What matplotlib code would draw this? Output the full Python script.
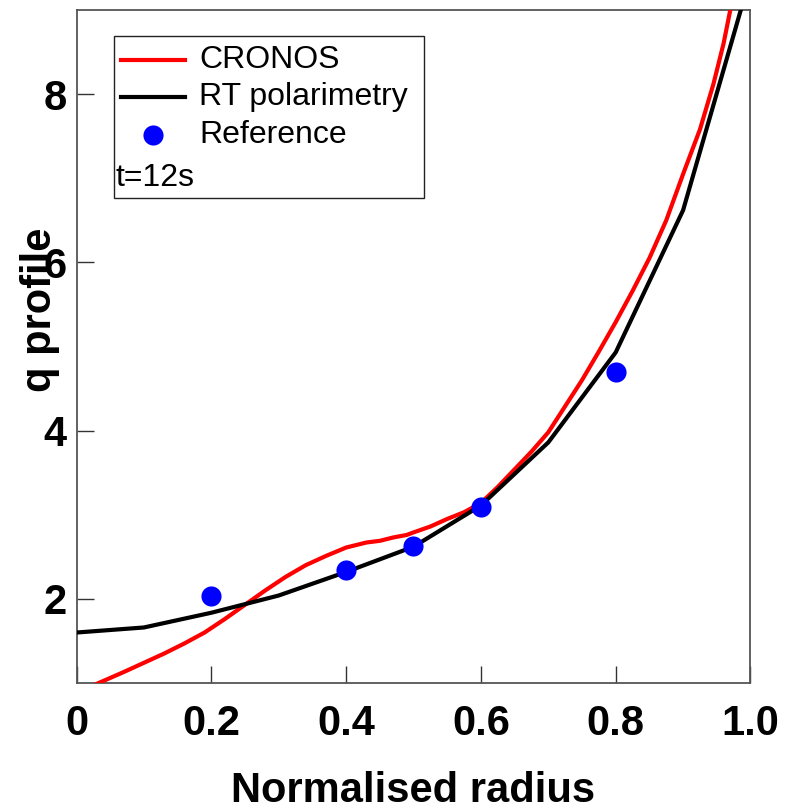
import matplotlib
matplotlib.use("Agg")
import matplotlib.pyplot as plt
from matplotlib.lines import Line2D
from matplotlib.patches import Rectangle

plt.rcParams['font.family'] = ['Liberation Sans', 'DejaVu Sans']

# CRONOS simulated q profile
cronos_r = [0.0, 0.03, 0.05, 0.07, 0.10, 0.13, 0.16, 0.19, 0.22, 0.25, 0.28,
            0.31, 0.34, 0.37, 0.40, 0.43, 0.45, 0.47, 0.49, 0.50, 0.525, 0.55,
            0.575, 0.60, 0.625, 0.65, 0.675, 0.70, 0.725, 0.75, 0.775, 0.80,
            0.825, 0.85, 0.875, 0.90, 0.925, 0.945, 0.96, 0.97, 0.98, 1.00]
cronos_q = [0.88, 0.99, 1.06, 1.13, 1.24, 1.35, 1.47, 1.60, 1.76, 1.93, 2.10,
            2.26, 2.40, 2.51, 2.61, 2.67, 2.69, 2.73, 2.76, 2.79, 2.86, 2.95,
            3.03, 3.14, 3.33, 3.54, 3.75, 3.98, 4.29, 4.60, 4.94, 5.29,
            5.66, 6.05, 6.50, 7.05, 7.58, 8.12, 8.60, 9.00, 9.50, 10.30]

# Real-time polarimetry reconstruction
rt_r = [0.0, 0.1, 0.2, 0.3, 0.4, 0.5, 0.6, 0.7, 0.8, 0.9, 1.0]
rt_q = [1.60, 1.66, 1.835, 2.04, 2.32, 2.62, 3.11, 3.86, 4.93, 6.62, 9.40]

# Reference points
ref_r = [0.2, 0.4, 0.5, 0.6, 0.8]
ref_q = [2.03, 2.34, 2.63, 3.09, 4.70]

xtick_vals = [0, 0.2, 0.4, 0.6, 0.8, 1.0]
xtick_labels = ['0', '0.2', '0.4', '0.6', '0.8', '1.0']
ytick_vals = [2, 4, 6, 8]
ytick_labels = ['2', '4', '6', '8']

W, H = 787, 811
fig = plt.figure(figsize=(W / 100, H / 100), dpi=100)
L, R, T, B = 76.5, 750.5, 10.0, 683.0
ax = fig.add_axes([L / W, (H - B) / H, (R - L) / W, (B - T) / H])

ax.plot(cronos_r, cronos_q, color='#ff0000', lw=3.0, solid_joinstyle='round', zorder=3)
ax.plot(rt_r, rt_q, color='black', lw=3.0, solid_joinstyle='round', zorder=3)
ax.plot(ref_r, ref_q, 'o', color='#0000ff', ms=14.5, mew=0, zorder=4)

ax.set_xlim(0, 1.0)
ax.set_ylim(1, 9)
ax.set_xticks(xtick_vals)
ax.set_xticklabels(xtick_labels)
ax.set_yticks(ytick_vals)
ax.set_yticklabels(ytick_labels)

for s in ax.spines.values():
    s.set_color('#555555')
    s.set_linewidth(1.3)

ax.tick_params(axis='both', direction='in', length=12.5, width=1.0,
               color='#333333', labelsize=30)
ax.tick_params(axis='x', pad=15)
ax.tick_params(axis='y', pad=7)
for lab in ax.get_xticklabels() + ax.get_yticklabels():
    lab.set_fontweight('bold')

# x-axis title, placed by its baseline
ax.text(0.5, (B - 802) / (B - T), 'Normalised radius', transform=ax.transAxes,
        ha='center', va='baseline', fontsize=30, fontweight='bold')
ax.text(-0.054, 0.554, 'q profile', transform=ax.transAxes, rotation=90,
        ha='center', va='center', fontsize=30, fontweight='bold')


def fx(px):
    return (px - L) / (R - L)


def fy(py):
    return (B - py) / (B - T)


# Legend box
ax.add_patch(Rectangle((fx(114), fy(198)), fx(424) - fx(114), fy(36) - fy(198),
                       transform=ax.transAxes, fill=False, ec='#222222', lw=1.0,
                       zorder=5))
ax.add_line(Line2D([fx(121), fx(185)], [fy(60), fy(60)], transform=ax.transAxes,
                   color='#ff0000', lw=3.0, zorder=6))
ax.add_line(Line2D([fx(121), fx(185)], [fy(97), fy(97)], transform=ax.transAxes,
                   color='black', lw=3.0, zorder=6))
ax.add_line(Line2D([fx(153)], [fy(135)], transform=ax.transAxes, marker='o',
                   color='#0000ff', ms=14.5, mew=0, ls='none', zorder=6))
leg_kw = dict(transform=ax.transAxes, fontsize=23, ha='left', va='center', zorder=6)
ax.text(fx(199), fy(60), 'CRONOS', **leg_kw)
ax.text(fx(199), fy(97), 'RT polarimetry', **leg_kw)
ax.text(fx(199), fy(135), 'Reference', **leg_kw)
ax.text(fx(116), fy(178), 't=12s', **leg_kw)

fig.savefig('out.png', dpi=100)
